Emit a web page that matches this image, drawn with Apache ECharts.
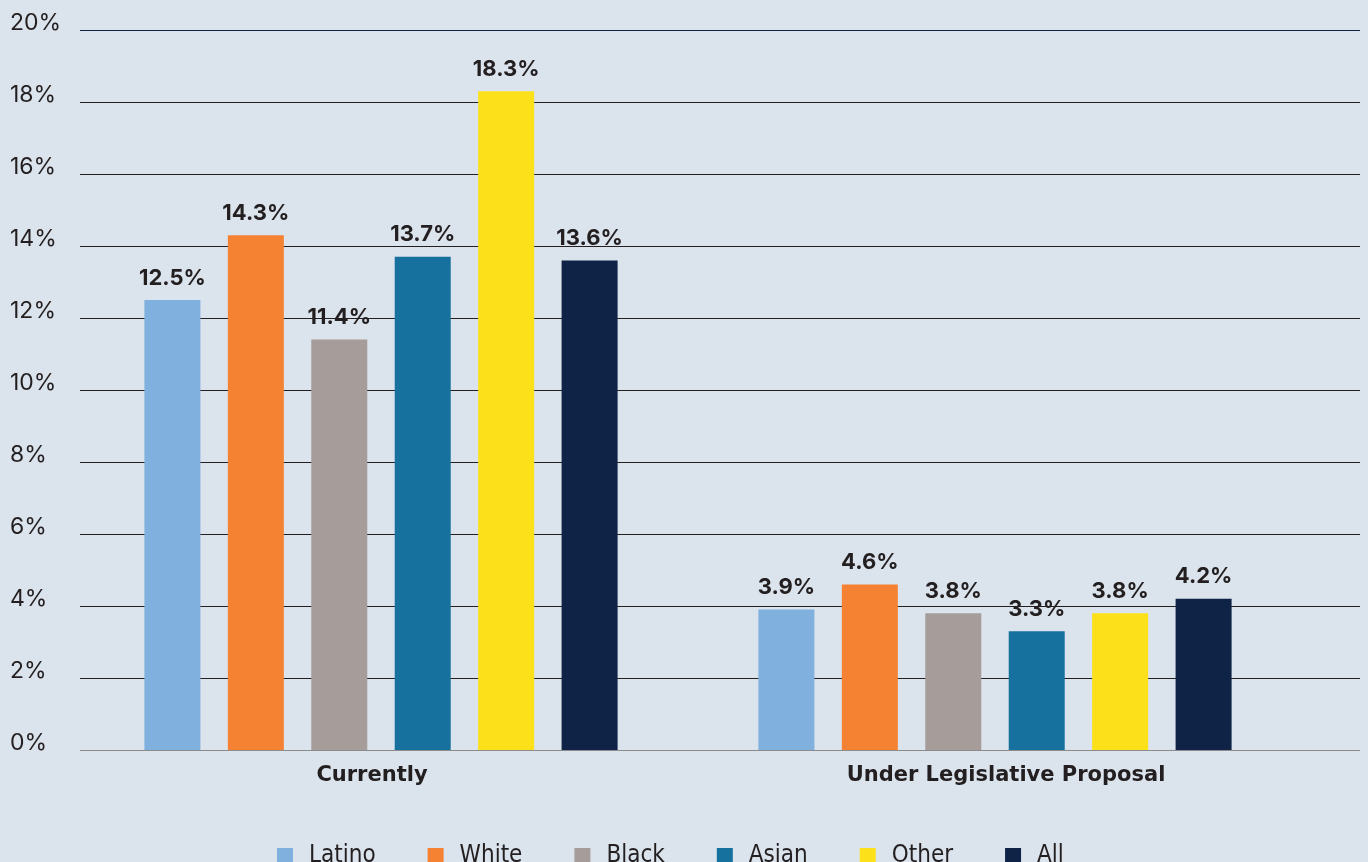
<!DOCTYPE html>
<html>
<head>
<meta charset="utf-8">
<script src="https://cdn.jsdelivr.net/npm/echarts@6/dist/echarts.min.js"></script>
<style>
html,body{margin:0;padding:0;background:#dbe3ec;}
#c{width:1368px;height:862px;}
</style>
</head>
<body>
<div id="c"></div>
<script>
const categories = ['Currently', 'Under Legislative Proposal'];
const seriesNames = ['Latino', 'White', 'Black', 'Asian', 'Other', 'All'];
const latino = [12.5, 3.9];
const white = [14.3, 4.6];
const black = [11.4, 3.8];
const asian = [13.7, 3.3];
const other = [18.3, 3.8];
const all = [13.6, 4.2];
const yTicks = [0, 2, 4, 6, 8, 10, 12, 14, 16, 18, 20];

const colors = ['#7fb0de', '#f58233', '#a69d9a', '#17719e', '#fbe01a', '#0f2347'];
const values = [latino, white, black, asian, other, all];

const gridColors = yTicks.map((t, i) => i === 0 ? '#8c8c8c' : (t === 20 ? '#0f2347' : '#231f20'));
const catFont = {color: '#231f20', fontFamily: '"DejaVu Sans", sans-serif', fontWeight: 'bold', fontSize: 21};

const chart = echarts.init(document.getElementById('c'));
chart.setOption({
  backgroundColor: '#dbe3ec',
  animation: false,
  grid: [
    {left: 80, right: 8, top: 30, bottom: 112},
    {left: 74, right: 66, top: 30, bottom: 112}
  ],
  xAxis: [
    {gridIndex: 0, type: 'category', data: categories, show: false},
    {gridIndex: 1, type: 'category', data: categories,
     axisLine: {show: false}, axisTick: {show: false},
     axisLabel: {margin: 15,
       formatter: (v, i) => (i === 0 ? '{a|' : '{b|') + v + '}',
       rich: {
         a: Object.assign({padding: [0, 18, 0, 0]}, catFont),
         b: Object.assign({padding: [0, 0, 0, 22]}, catFont)
       }}}
  ],
  yAxis: [
    {gridIndex: 0, type: 'value', min: 0, max: 20, interval: 2,
     axisLine: {show: false}, axisTick: {show: false},
     splitLine: {show: true, lineStyle: {color: gridColors, width: 1.2}},
     axisLabel: {formatter: '{value}%', align: 'left', margin: 70, color: '#231f20',
       fontFamily: 'Inter', fontSize: 23, verticalAlign: 'bottom', lineHeight: 13}},
    {gridIndex: 1, type: 'value', min: 0, max: 20, interval: 2, show: false,
     splitLine: {show: false}}
  ],
  legend: {
    data: seriesNames,
    top: 839,
    left: 272,
    icon: 'rect',
    itemWidth: 16,
    itemHeight: 16,
    itemGap: 52,
    textStyle: {fontFamily: '"DejaVu Sans Condensed", "Liberation Sans", sans-serif', fontSize: 24, color: '#231f20', padding: [0, 0, 0, 11]}
  },
  series: seriesNames.map((name, i) => ({
    name: name,
    type: 'bar',
    xAxisIndex: 1,
    yAxisIndex: 1,
    data: values[i],
    barWidth: 56,
    barGap: '49%',
    itemStyle: {color: colors[i]},
    label: {show: true, position: 'top', distance: 11,
      formatter: p => p.value.toFixed(1) + '%',
      color: '#231f20', fontFamily: 'Inter', fontWeight: 'bold', fontSize: 22}
  }))
});
</script>
</body>
</html>
